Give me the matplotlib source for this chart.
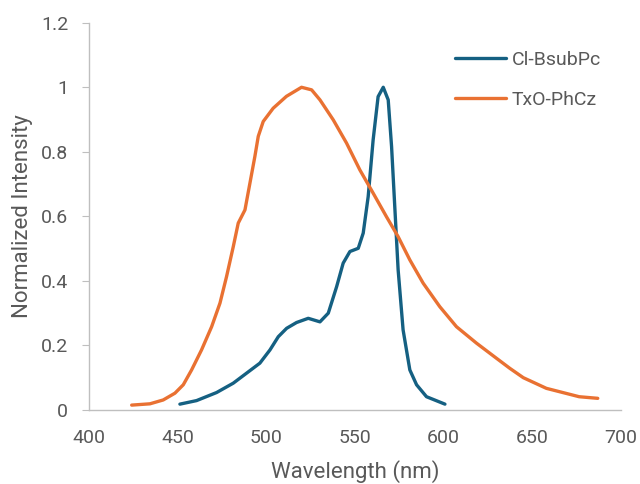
import matplotlib
matplotlib.use("Agg")
import matplotlib.pyplot as plt
from matplotlib.ticker import FuncFormatter

plt.rcParams['font.family'] = ['Roboto', 'DejaVu Sans']

# TxO-PhCz series
txo_wl = [424.1, 434.4, 441.9, 448.5, 453.2, 457.9, 463.5, 469.2, 473.9, 477.6, 481.4,
          484.2, 488.0, 490.8, 493.6, 495.5, 498.3, 503.9, 511.4, 519.9, 525.6, 530.3,
          537.8, 545.3, 552.8, 560.3, 567.8, 574.4, 581.0, 588.5, 597.9, 607.3, 618.6,
          629.9, 637.4, 645.0, 658.0, 676.5, 687.0]
txo_int = [0.015, 0.019, 0.031, 0.052, 0.078, 0.124, 0.186, 0.258, 0.331, 0.413, 0.506,
           0.579, 0.620, 0.703, 0.786, 0.848, 0.894, 0.935, 0.972, 1.000, 0.992, 0.961,
           0.899, 0.827, 0.744, 0.672, 0.599, 0.537, 0.465, 0.393, 0.320, 0.258, 0.207,
           0.160, 0.129, 0.100, 0.067, 0.041, 0.036]

# Cl-BsubPc series
cl_wl = [451.3, 460.7, 472.0, 481.4, 488.9, 496.4, 502.1, 506.8, 511.5, 517.1, 523.7,
         530.3, 535.0, 539.7, 543.4, 547.2, 551.9, 554.7, 557.5, 560.3, 563.1, 566.0,
         568.8, 570.7, 572.6, 574.4, 577.2, 581.0, 584.8, 590.4, 600.8]
cl_int = [0.018, 0.029, 0.054, 0.083, 0.114, 0.145, 0.186, 0.227, 0.253, 0.271, 0.284,
          0.273, 0.300, 0.382, 0.455, 0.491, 0.501, 0.548, 0.661, 0.837, 0.971, 1.000,
          0.961, 0.816, 0.620, 0.434, 0.248, 0.124, 0.078, 0.041, 0.018]

x_ticks = [400, 450, 500, 550, 600, 650, 700]
y_ticks = [0, 0.2, 0.4, 0.6, 0.8, 1.0, 1.2]

blue = '#156082'
orange = '#E97132'
text_c = '#595959'
axis_c = '#BFBFBF'

fig = plt.figure(figsize=(6.4, 4.84), dpi=100)
ax = fig.add_axes([0.139, 0.153, 0.831, 0.800])

ax.plot(cl_wl, cl_int, color=blue, lw=2.4, label='Cl-BsubPc',
        solid_capstyle='round', solid_joinstyle='round')
ax.plot(txo_wl, txo_int, color=orange, lw=2.4, label='TxO-PhCz',
        solid_capstyle='round', solid_joinstyle='round')

ax.set_xlim(400, 700)
ax.set_ylim(0, 1.2)
ax.set_xticks(x_ticks)
ax.set_yticks(y_ticks)
ax.yaxis.set_major_formatter(FuncFormatter(lambda v, p: ('%g' % round(v, 2))))

for s in ['top', 'right']:
    ax.spines[s].set_visible(False)
for s in ['left', 'bottom']:
    ax.spines[s].set_color(axis_c)
    ax.spines[s].set_linewidth(1.0)

ax.tick_params(axis='y', length=5, color=axis_c, labelcolor=text_c, labelsize=14, pad=10)
ax.tick_params(axis='x', length=0, labelcolor=text_c, labelsize=14, pad=14)

ax.set_xlabel('Wavelength (nm)', color=text_c, fontsize=16, labelpad=9)
ax.set_ylabel('Normalized Intensity', color=text_c, fontsize=16, labelpad=6)

leg = ax.legend(loc='center left', bbox_to_anchor=(0.711, 0.835), bbox_transform=fig.transFigure,
                frameon=False, fontsize=14, handlelength=2.6, handletextpad=0.3,
                labelspacing=1.1, labelcolor=text_c, borderpad=0, borderaxespad=0)

fig.savefig('out.png', dpi=100)
